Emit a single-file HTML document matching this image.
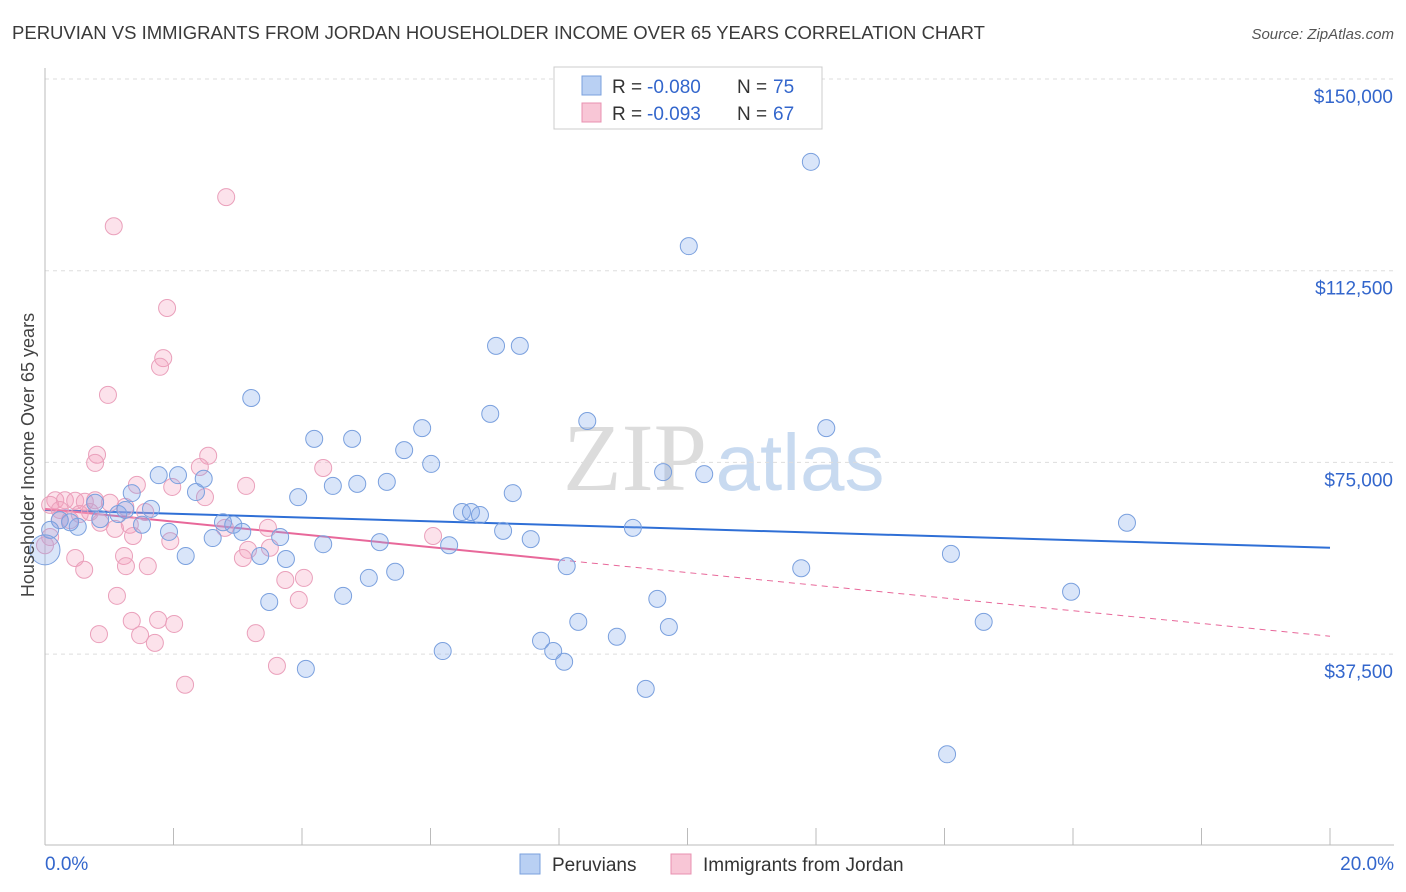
<!DOCTYPE html>
<html><head><meta charset="utf-8">
<style>
body{margin:0;background:#fff;}
svg{display:block;font-family:"Liberation Sans",sans-serif;}
</style></head>
<body>
<svg id="chart" width="1406" height="892" viewBox="0 0 1406 892">
<text x="12" y="39" font-size="18.5" fill="#3a3a3a" textLength="973" lengthAdjust="spacingAndGlyphs">PERUVIAN VS IMMIGRANTS FROM JORDAN HOUSEHOLDER INCOME OVER 65 YEARS CORRELATION CHART</text>
<text x="1394" y="39" font-size="15" fill="#555" font-style="italic" text-anchor="end">Source: ZipAtlas.com</text>
<g>
<text x="635" y="490" font-size="96" font-family="Liberation Serif,serif" fill="#dcdcdc" text-anchor="middle">ZIP</text>
<text x="800" y="490" font-size="80" fill="#c8daf0" text-anchor="middle">atlas</text>
</g>
<g id="grid"></g>
<g id="axes"></g>
<g id="trends"></g>
<g id="points"></g>
<text transform="translate(34,455) rotate(-90)" font-size="18" fill="#444" text-anchor="middle">Householder Income Over 65 years</text>
<g>
<rect x="554" y="67" width="268" height="62" fill="#fff" stroke="#ccc"/>
<rect x="582" y="76" width="19" height="19" fill="#b9d0f3" stroke="#7aa0de"/>
<rect x="582" y="103" width="19" height="19" fill="#f8c6d6" stroke="#e890b0"/>
<text x="612" y="93" font-size="19" fill="#333">R =</text>
<text x="647" y="93" font-size="19" fill="#3366cc">-0.080</text>
<text x="737" y="93" font-size="19" fill="#333">N =</text>
<text x="773" y="93" font-size="19" fill="#3366cc">75</text>
<text x="612" y="120" font-size="19" fill="#333">R =</text>
<text x="647" y="120" font-size="19" fill="#3366cc">-0.093</text>
<text x="737" y="120" font-size="19" fill="#333">N =</text>
<text x="773" y="120" font-size="19" fill="#3366cc">67</text>
</g>
<g>
<rect x="520" y="854" width="20" height="20" fill="#b9d0f3" stroke="#7aa0de"/>
<text x="552" y="871" font-size="19" fill="#333">Peruvians</text>
<rect x="671" y="854" width="20" height="20" fill="#f8c6d6" stroke="#e890b0"/>
<text x="703" y="871" font-size="19" fill="#333">Immigrants from Jordan</text>
</g>
</svg>
<script>
const yTicks=[150000,112500,75000,37500];
const yTickLabels=["$150,000","$112,500","$75,000","$37,500"];
const xTickLabels=["0.0%","20.0%"];
const peruX=[11.92,10.02,7.02,7.39,3.21,6.93,8.44,12.16,5.87,4.19,4.78,5.59,6.01,9.62,10.26,1.77,2.07,5.32,4.86,4.48,2.47,2.35,7.28,1.35,3.94,0.78,1.65,1.14,6.49,6.63,6.77,16.84,9.15,7.13,7.56,2.77,2.93,1.51,1.93,3.07,3.66,2.61,5.21,4.33,6.29,0.51,0.23,0.08,0,2.19,3.35,3.75,14.10,8.12,11.77,5.45,5.04,4.64,9.53,3.49,15.97,8.30,9.71,8.90,7.72,14.61,6.19,7.91,8.08,4.06,9.35,14.04,1.25,0.86,0.39];
const peruY=[133800,117300,97800,97800,87600,84500,83100,81700,81700,79600,79600,77400,74700,73100,72700,72500,72500,71200,70800,70400,71800,69200,69000,69000,68200,67100,65900,64900,65300,65300,64700,63200,62200,61600,60000,63300,62800,62800,61400,61400,60400,60200,59400,59000,58800,62400,63700,61800,57900,56700,56700,56100,57100,54700,54300,53600,52400,48900,48300,47700,49700,43800,42800,40900,40100,43800,38100,38100,36000,34600,30700,17900,65700,63900,63300];
const jordX=[2.82,1.07,1.90,1.84,1.79,0.98,0.81,0.78,2.54,2.41,4.33,1.43,3.13,1.98,2.49,0.16,0.31,0.47,0.62,0.08,1.01,1.25,0.23,0.70,1.56,0.39,0.86,1.09,1.32,2.80,3.47,0.08,0,6.04,1.95,1.37,3.16,3.08,3.50,1.23,1.26,1.60,0.47,0.61,3.74,4.03,1.12,3.95,1.35,1.76,2.01,0.84,1.48,1.71,3.28,3.61,2.18,0.54,0.78,0.23];
const jordY=[126900,121200,105200,95400,93700,88200,76500,74900,76300,74100,73900,70600,70400,70200,68200,67600,67600,67500,67300,66700,67100,66300,65700,65300,65300,63700,63200,62000,62800,62200,62200,60400,58800,60600,59600,60600,57900,56300,58300,56700,54700,54700,56300,54000,52000,52400,48900,48100,44000,44200,43400,41400,41200,39700,41600,35200,31500,64900,67600,63700];
const peruTrend=[65700,58300];
const jordTrend=[65900,41000];
const jordSolidEnd=8;
const NS="http://www.w3.org/2000/svg";
function xs(v){return 45+v/20*1285;}
function ys(v){return 79+(150000-v)/37500*191.7;}
function mk(tag,attrs,parent){const e=document.createElementNS(NS,tag);for(const k in attrs)e.setAttribute(k,attrs[k]);parent.appendChild(e);return e;}
const grid=document.getElementById('grid'),axes=document.getElementById('axes'),trends=document.getElementById('trends'),pts=document.getElementById('points');
yTicks.forEach((t,i)=>{
 const l=mk('line',{x1:45,x2:1394,y1:ys(t),y2:ys(t),stroke:'#ddd','stroke-dasharray':'4,4'},grid);
 
 
 const tx=mk('text',{x:1393,y:ys(t)+24,'font-size':19,fill:'#3366cc','text-anchor':'end'},axes);
 tx.textContent=yTickLabels[i];
 
 
});
const yl=mk('line',{x1:45,x2:45,y1:68,y2:845,stroke:'#bbb'},axes);


const xl=mk('line',{x1:45,x2:1394,y1:845,y2:845,stroke:'#bbb'},axes);


for(let i=0;i<=10;i++){
 const t=mk('line',{x1:xs(i*2),x2:xs(i*2),y1:828,y2:845,stroke:'#bbb'},axes);
 
 
}
[[0,'start',45],[20,'end',1394]].forEach((d,i)=>{
 const tx=mk('text',{x:d[2],y:870,'font-size':19,fill:'#3366cc','text-anchor':d[1]},axes);
 tx.textContent=xTickLabels[i];
 
 
});
function drawPts(X,Y,fill,stroke,name){
 X.forEach((x,i)=>{
  const r=(x===0&&name==='peruvian-point')?15:8.5;
  const c=mk('circle',{cx:xs(x),cy:ys(Y[i]),r:r,fill:fill,stroke:stroke,'stroke-width':1},pts);
  
  
 });
}
drawPts(jordX,jordY,'rgba(244,160,190,0.3)','#eaa0bb','jordan-point');
drawPts(peruX,peruY,'rgba(130,170,235,0.3)','#7aa0de','peruvian-point');
const bt=mk('line',{x1:xs(0),y1:ys(peruTrend[0]),x2:xs(20),y2:ys(peruTrend[1]),stroke:'#2f6fd6','stroke-width':2},trends);


const jy=v=>jordTrend[0]+(jordTrend[1]-jordTrend[0])*v/20;
const pt=mk('line',{x1:xs(0),y1:ys(jy(0)),x2:xs(jordSolidEnd),y2:ys(jy(jordSolidEnd)),stroke:'#e8689a','stroke-width':2},trends);


const pd=mk('line',{x1:xs(jordSolidEnd),y1:ys(jy(jordSolidEnd)),x2:xs(20),y2:ys(jy(20)),stroke:'#e8689a','stroke-width':1,'stroke-dasharray':'6,5'},trends);


</script>
</body></html>
